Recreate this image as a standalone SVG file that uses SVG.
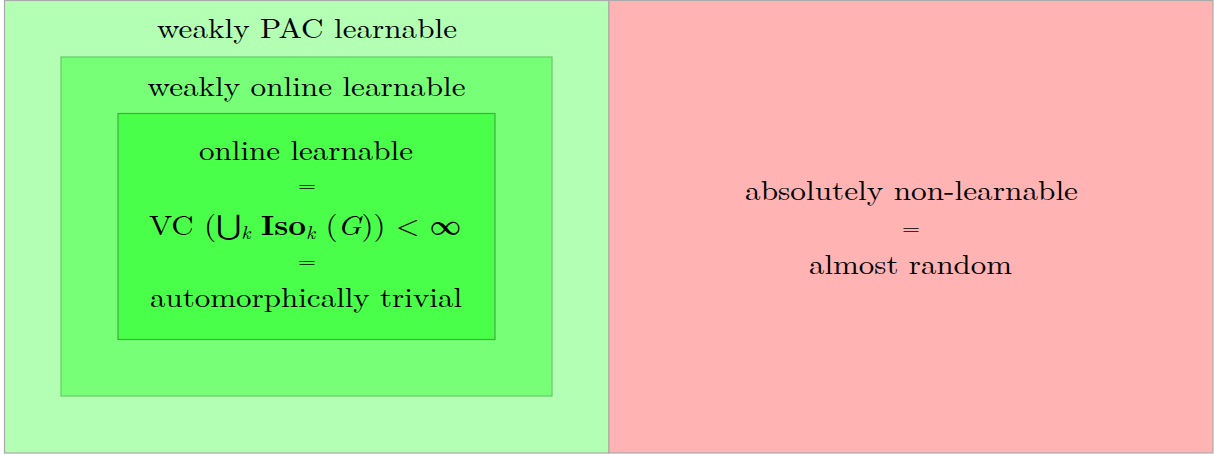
<svg xmlns="http://www.w3.org/2000/svg" width="1214" height="454" viewBox="0 0 1214 454">
<style>
.t{font-family:"Latin Modern Roman","Liberation Serif","DejaVu Serif",serif;font-size:28px;fill:#000;text-anchor:middle}
.eq{font-size:20px}
.box{stroke-width:1.2}
.m{font-style:italic}
.b{font-weight:bold}
.s{font-size:18px}
</style>
<rect width="1214" height="454" fill="#ffffff"/>
<g id="weakly-pac">
<rect class="box" x="4.5" y="0.5" width="604.5" height="452.5" fill="#b3ffb3" stroke="#aaa"/>
<text class="t" x="307" y="38" textLength="300" lengthAdjust="spacingAndGlyphs">weakly PAC learnable</text>
</g>
<g id="non-learnable">
<rect class="box" x="609" y="0.5" width="604" height="452.5" fill="#ffb3b3" stroke="#aaa"/>
<text class="t" x="911.5" y="200" textLength="333" lengthAdjust="spacingAndGlyphs">absolutely non-learnable</text>
<text class="t eq" x="911" y="235" textLength="18" lengthAdjust="spacingAndGlyphs">=</text>
<text class="t" x="910.5" y="274" textLength="203" lengthAdjust="spacingAndGlyphs">almost random</text>
</g>
<g id="weakly-online">
<rect class="box" x="61" y="57" width="491" height="339" fill="#78ff78" stroke="#6c6"/>
<text class="t" x="306.5" y="96" textLength="318" lengthAdjust="spacingAndGlyphs">weakly online learnable</text>
</g>
<g id="online">
<rect class="box" x="118" y="113.5" width="377" height="226" fill="#4aff4a" stroke="#4a4"/>
<text class="t" x="306" y="160" textLength="214" lengthAdjust="spacingAndGlyphs">online learnable</text>
<text class="t eq" x="307" y="192" textLength="18" lengthAdjust="spacingAndGlyphs">=</text>
<text class="t" x="305" y="235" textLength="312" lengthAdjust="spacingAndGlyphs">VC (⋃<tspan class="m s" dy="4">k</tspan><tspan dy="-4"> </tspan><tspan class="b">Iso</tspan><tspan class="m s" dy="4">k</tspan><tspan dy="-4"> (</tspan><tspan class="m">G</tspan>)) &lt; ∞</text>
<text class="t eq" x="307" y="268" textLength="18" lengthAdjust="spacingAndGlyphs">=</text>
<text class="t" x="306" y="307" textLength="312" lengthAdjust="spacingAndGlyphs">automorphically trivial</text>
</g>
<g id="connectors"/>
</svg>
